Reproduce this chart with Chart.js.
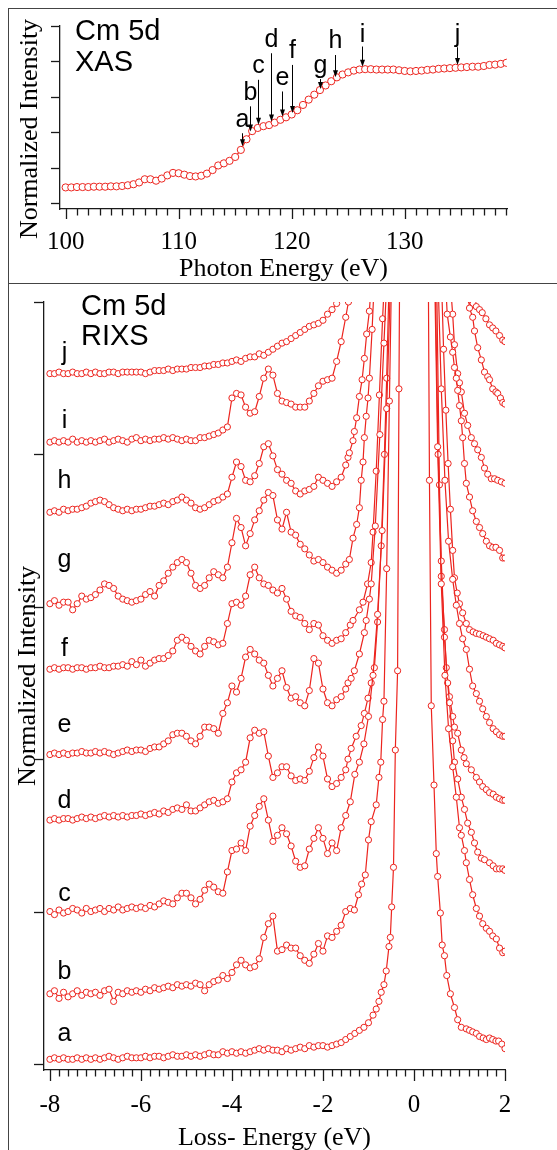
<!DOCTYPE html>
<html>
<head>
<meta charset="utf-8">
<script src="https://cdn.jsdelivr.net/npm/chart.js@4.4.0/dist/chart.umd.min.js"></script>
<style>
  body { margin: 0; background: #fff; }
  #wrap { position: relative; width: 557px; height: 1150px; overflow: hidden; background: #fff; }
  canvas { position: absolute; left: 0; }
  #xas { top: 0; }
  #rixs { top: 285px; }
  .frame { position: absolute; left: 8px; top: 8px; width: 700px; height: 1300px; border-left: 1.5px solid #444; border-top: 1.5px solid #444; }
  .sep { position: absolute; left: 8px; top: 283px; width: 700px; border-top: 1.5px solid #444; }
</style>
</head>
<body>
<div id="wrap">
  <canvas id="xas" width="557" height="285"></canvas>
  <canvas id="rixs" width="557" height="865"></canvas>
  <div class="frame"></div>
  <div class="sep"></div>
</div>
<script>
// ---- XAS (top panel) ----
const xasEnergy = [100,100.5,101,101.5,102,102.5,103,103.5,104,104.5,105,105.5,106,106.5,107,107.5,108,108.5,109,109.5,
  110,110.5,111,111.5,112,112.5,113,113.5,114,114.5,115,115.5,116,116.5,117,117.5,118,118.5,119,119.5,
  120,120.5,121,121.5,122,122.5,123,123.5,124,124.5,125,125.5,126,126.5,127,127.5,128,128.5,129,129.5,
  130,130.5,131,131.5,132,132.5,133,133.5,134,134.5,135,135.5,136,136.5,137,137.5,138,138.5,139];
const xasIntensity = [0.44,0.44,0.45,0.45,0.45,0.46,0.46,0.46,0.47,0.47,0.48,0.5,0.53,0.58,0.67,0.67,0.63,0.69,0.78,0.85,
  0.84,0.8,0.76,0.75,0.77,0.83,0.93,1.06,1.12,1.19,1.3,1.5,1.8,2.03,2.12,2.17,2.2,2.27,2.35,2.42,
  2.5,2.62,2.77,2.92,3.06,3.19,3.32,3.44,3.55,3.63,3.69,3.74,3.77,3.78,3.78,3.77,3.77,3.77,3.77,3.75,
  3.73,3.72,3.73,3.74,3.76,3.77,3.79,3.8,3.81,3.82,3.83,3.84,3.85,3.85,3.87,3.9,3.91,3.93,3.96];

// arrows marking the excitation energies
const arrowLetters = ['a','b','c','d','e','f','g','h','i','j'];
const arrowEnergy = [115.6,116.3,117.0,118.2,119.1,120.0,122.5,123.8,126.2,134.6];
const arrowLabelBase = [2.16,2.91,3.67,4.42,3.34,4.09,3.67,4.37,4.56,4.56];
const arrowFrom = [1.97,2.73,3.48,4.23,3.15,3.9,3.5,4.18,4.42,4.4];
const arrowTo = [1.6,2.02,2.21,2.3,2.44,2.54,3.22,3.55,3.85,3.9];

// ---- RIXS (bottom panel) ----
const lossGrid = [-8.0,-7.9,-7.8,-7.7,-7.6,-7.5,-7.4,-7.3,-7.2,-7.1,-7.0,-6.9,-6.8,-6.7,-6.6,-6.5,-6.4,-6.3,-6.2,-6.1,
  -6.0,-5.9,-5.8,-5.7,-5.6,-5.5,-5.4,-5.3,-5.2,-5.1,-5.0,-4.9,-4.8,-4.7,-4.6,-4.5,-4.4,-4.3,-4.2,-4.1,
  -4.0,-3.9,-3.8,-3.7,-3.6,-3.5,-3.4,-3.3,-3.2,-3.1,-3.0,-2.9,-2.8,-2.7,-2.6,-2.5,-2.4,-2.3,-2.2,-2.1,
  -2.0,-1.9,-1.8,-1.7,-1.6,-1.5];

const specA = [0.00,0.01,0.00,0.01,0.00,0.00,0.01,0.00,0.01,0.00, 0.01,0.00,0.01,0.02,0.01,0.00,0.01,0.02,0.01,0.01,
  0.01,0.02,0.01,0.02,0.02,0.01,0.02,0.03,0.02,0.02, 0.03,0.02,0.03,0.02,0.03,0.04,0.03,0.03,0.05,0.04,
  0.05,0.04,0.05,0.04,0.05,0.06,0.07,0.06,0.07,0.06, 0.06,0.05,0.07,0.06,0.07,0.08,0.07,0.09,0.08,0.09,
  0.09,0.08,0.09,0.10,0.11,0.13];
const specB = [0.01,0.03,-0.02,0.02,-0.01,0.01,0.03,0.0,0.02,0.01, 0.02,0.0,0.03,0.04,-0.04,0.02,0.01,0.03,0.02,0.03,
  0.02,0.04,0.03,0.05,0.04,0.05,0.06,0.05,0.07,0.06, 0.07,0.06,0.08,0.07,0.03,0.07,0.09,0.1,0.13,0.11,
  0.15,0.2,0.23,0.2,0.18,0.19,0.24,0.38,0.47,0.52, 0.29,0.3,0.33,0.31,0.31,0.26,0.23,0.21,0.27,0.34,
  0.29,0.39,0.38,0.42,0.46,0.55];
const specC = [0.0,-0.02,0.01,-0.01,0.0,0.02,0.01,-0.01,0.02,0.0, 0.01,0.02,0.0,0.02,0.01,0.03,0.01,0.02,0.03,0.02,
  0.03,0.02,0.04,0.03,0.05,0.07,0.06,0.05,0.09,0.12, 0.12,0.09,0.05,0.08,0.14,0.18,0.16,0.13,0.12,0.26,
  0.4,0.41,0.45,0.4,0.56,0.63,0.69,0.74,0.6,0.46, 0.5,0.55,0.51,0.43,0.33,0.29,0.3,0.41,0.48,0.55,
  0.48,0.38,0.45,0.4,0.55,0.63];
const specD = [0.0,0.01,0.0,0.01,0.01,0.0,0.01,0.02,0.01,0.02, 0.01,0.02,0.03,0.02,0.03,0.02,0.03,0.02,0.03,0.03,
  0.04,0.03,0.04,0.05,0.04,0.06,0.05,0.07,0.08,0.07, 0.1,0.06,0.06,0.08,0.1,0.12,0.13,0.11,0.12,0.14,
  0.25,0.31,0.33,0.38,0.54,0.59,0.57,0.58,0.42,0.28, 0.31,0.35,0.35,0.29,0.26,0.27,0.26,0.32,0.41,0.48,
  0.42,0.27,0.22,0.24,0.28,0.33];
const specE = [0.0,0.01,0.0,0.01,0.0,0.01,0.01,0.02,0.01,0.01, 0.02,0.01,0.02,0.01,0.0,0.01,0.02,0.03,0.02,0.03,
  0.03,0.02,0.04,0.05,0.05,0.07,0.09,0.13,0.14,0.14, 0.12,0.09,0.07,0.12,0.18,0.18,0.17,0.14,0.27,0.34,
  0.45,0.41,0.5,0.64,0.69,0.66,0.62,0.6,0.52,0.45, 0.5,0.55,0.44,0.37,0.38,0.34,0.32,0.42,0.63,0.6,
  0.43,0.34,0.32,0.36,0.38,0.43];
const specF = [0.0,0.01,0.0,0.01,0.01,0.0,0.01,0.01,0.0,0.01, 0.01,0.02,0.01,0.01,0.02,0.02,0.03,0.02,0.05,0.03,
  0.06,0.02,0.04,0.06,0.07,0.07,0.09,0.12,0.19,0.21, 0.19,0.15,0.12,0.1,0.15,0.19,0.18,0.16,0.17,0.3,
  0.43,0.44,0.42,0.48,0.62,0.67,0.6,0.56,0.55,0.52, 0.5,0.53,0.46,0.38,0.35,0.34,0.3,0.26,0.3,0.29,
  0.22,0.19,0.17,0.19,0.2,0.24];
const specG = [0.0,0.02,-0.01,0.01,0.01,-0.04,0.0,0.05,0.03,0.04, 0.06,0.09,0.13,0.12,0.1,0.05,0.03,0.02,0.01,0.02,
  0.03,0.06,0.08,0.05,0.12,0.15,0.2,0.24,0.27,0.29, 0.27,0.2,0.12,0.1,0.12,0.17,0.21,0.19,0.17,0.24,
  0.4,0.56,0.5,0.38,0.46,0.55,0.61,0.68,0.73,0.71, 0.55,0.49,0.6,0.47,0.45,0.39,0.36,0.32,0.28,0.29,
  0.27,0.24,0.22,0.2,0.22,0.26];
const specH = [0.0,0.01,0.0,0.02,0.01,0.02,0.02,0.03,0.04,0.06, 0.07,0.08,0.07,0.05,0.03,0.02,0.01,0.02,0.01,0.02,
  0.02,0.03,0.04,0.04,0.05,0.06,0.05,0.07,0.08,0.1, 0.08,0.06,0.03,0.02,0.03,0.05,0.07,0.08,0.1,0.12,
  0.23,0.33,0.3,0.21,0.2,0.24,0.32,0.43,0.45,0.37, 0.28,0.25,0.21,0.19,0.14,0.12,0.14,0.15,0.17,0.23,
  0.21,0.19,0.17,0.2,0.23,0.31];
const specI = [0.0,0.01,0.0,0.01,0.0,0.02,0.0,0.01,0.0,0.01, 0.0,0.01,0.02,0.0,0.01,0.02,0.01,0.0,0.02,0.03,
  0.01,0.02,0.01,0.02,0.02,0.03,0.02,0.03,0.02,0.01, 0.02,0.01,0.01,0.03,0.03,0.04,0.05,0.06,0.08,0.1,
  0.29,0.32,0.31,0.23,0.19,0.2,0.3,0.42,0.48,0.44, 0.32,0.27,0.26,0.25,0.23,0.23,0.23,0.27,0.32,0.37,
  0.4,0.41,0.42,0.53,0.66,0.82];
const specJ = [0.0,0.0,0.01,0.0,0.0,0.01,0.0,0.0,0.01,0.0, 0.01,0.0,0.0,0.01,0.01,0.0,0.01,0.01,0.01,0.01,
  0.01,0.0,0.01,0.02,0.02,0.02,0.03,0.02,0.03,0.03, 0.03,0.04,0.04,0.04,0.05,0.05,0.06,0.06,0.07,0.07,
  0.08,0.09,0.08,0.1,0.11,0.11,0.13,0.12,0.14,0.16, 0.18,0.2,0.21,0.23,0.25,0.27,0.29,0.31,0.32,0.33,
  0.35,0.39,0.42,0.46,0.56,0.66];

// points around the elastic line, [loss energy, intensity]
const wingA = [[-1.4,0.15],[-1.3,0.17],[-1.2,0.19],[-1.1,0.21],[-1.0,0.24],[-0.9,0.29],[-0.83,0.33],[-0.77,0.38],[-0.72,0.44],
  [-0.66,0.49],[-0.61,0.58],[-0.55,0.74],[-0.52,0.8],[-0.49,1.0],[-0.45,1.26],[-0.41,2.03],[-0.36,2.55],[-0.33,4.4],[-0.3,6.0],
  [0.3,6.0],[0.34,3.8],[0.38,2.32],[0.44,1.8],[0.49,1.35],[0.52,1.2],[0.58,0.96],[0.62,0.75],[0.67,0.68],[0.72,0.55],[0.8,0.43],
  [0.89,0.34],[0.96,0.26],[1.04,0.21],[1.15,0.2],[1.22,0.19],[1.29,0.18],[1.37,0.17],[1.44,0.15],[1.52,0.14],[1.59,0.13],
  [1.66,0.14],[1.73,0.13],[1.8,0.12],[1.86,0.12],[1.93,0.1],[2.0,0.07]];
const wingB = [[-1.4,0.57],[-1.31,0.56],[-1.22,0.66],[-1.15,0.73],[-1.07,0.79],[-1.0,1.02],[-0.94,1.14],[-0.83,1.25],[-0.77,1.43],
  [-0.73,1.53],[-0.69,1.81],[-0.66,1.93],[-0.6,2.8],[-0.54,3.9],[-0.49,4.8],[0.45,4.8],[0.52,3.6],[0.6,2.7],[0.68,2.1],[0.76,1.75],
  [0.85,1.5],[0.93,1.3],[1.0,1.1],[1.04,1.05],[1.11,0.95],[1.15,0.87],[1.22,0.76],[1.29,0.66],[1.37,0.57],[1.44,0.52],[1.51,0.47],
  [1.59,0.44],[1.66,0.42],[1.73,0.39],[1.81,0.37],[1.88,0.31],[1.95,0.28],[2.0,0.29]];
const wingC = [[-1.4,0.72],[-1.3,0.9],[-1.2,0.98],[-1.1,1.1],[-1.0,1.28],[-0.9,1.55],[-0.8,1.95],[-0.7,2.5],[-0.6,3.3],[-0.52,4.1],
  [0.47,4.1],[0.53,3.0],[0.6,2.3],[0.67,1.8],[0.74,1.5],[0.78,1.37],[0.85,1.12],[0.89,0.98],[0.96,0.87],[1.04,0.75],[1.11,0.67],
  [1.18,0.58],[1.26,0.52],[1.33,0.45],[1.4,0.39],[1.48,0.35],[1.55,0.34],[1.66,0.32],[1.74,0.3],[1.81,0.28],[1.88,0.28],[1.95,0.28],[2.0,0.27]];
const wingD = [[-1.45,0.4],[-1.38,0.47],[-1.27,0.55],[-1.16,0.62],[-1.09,0.7],[-1.01,0.8],[-0.94,0.9],[-0.87,1.0],[-0.8,1.3],
  [-0.72,1.8],[-0.65,2.4],[-0.6,2.9],[-0.55,3.5],[0.5,3.5],[0.56,2.2],[0.6,1.6],[0.67,1.25],[0.71,1.0],[0.78,0.81],[0.85,0.68],
  [0.89,0.61],[0.96,0.57],[1.04,0.46],[1.1,0.41],[1.15,0.37],[1.26,0.33],[1.37,0.28],[1.44,0.25],[1.51,0.22],[1.59,0.2],
  [1.66,0.18],[1.74,0.17],[1.81,0.15],[1.88,0.14],[1.95,0.13],[2.0,0.13]];
const wingE = [[-1.45,0.47],[-1.38,0.5],[-1.31,0.55],[-1.2,0.66],[-1.09,0.8],[-1.05,0.88],[-0.98,1.02],[-0.94,1.12],[-0.85,1.5],
  [-0.75,2.1],[-0.66,2.7],[-0.6,3.1],[0.53,3.1],[0.6,2.4],[0.68,1.8],[0.76,1.4],[0.85,1.15],[0.93,0.98],[1.0,0.86],[1.07,0.76],
  [1.15,0.69],[1.22,0.56],[1.29,0.45],[1.37,0.4],[1.44,0.35],[1.51,0.3],[1.59,0.25],[1.66,0.21],[1.74,0.17],[1.81,0.15],
  [1.88,0.13],[1.95,0.12],[2.0,0.12]];
const wingF = [[-1.4,0.29],[-1.34,0.32],[-1.2,0.39],[-1.12,0.44],[-1.02,0.56],[-0.94,0.7],[-0.9,0.9],[-0.83,1.3],[-0.76,1.8],
  [-0.69,2.3],[-0.64,2.6],[0.6,2.6],[0.65,2.1],[0.7,1.7],[0.75,1.35],[0.8,1.05],[0.85,0.78],[0.89,0.6],[0.95,0.5],[1.0,0.43],
  [1.07,0.37],[1.15,0.3],[1.22,0.26],[1.3,0.245],[1.37,0.235],[1.44,0.23],[1.52,0.22],[1.59,0.21],[1.66,0.2],[1.74,0.19],
  [1.81,0.17],[1.88,0.16],[1.95,0.15],[2.0,0.14]];
const wingG = [[-1.42,0.29],[-1.34,0.43],[-1.26,0.52],[-1.2,0.63],[-1.16,0.81],[-1.12,0.93],[-1.09,1.09],[-1.05,1.23],[-1.01,1.35],
  [-0.98,1.48],[-0.92,1.8],[-0.86,2.2],[0.68,2.2],[0.73,1.9],[0.8,1.75],[0.85,1.65],[0.89,1.55],[0.93,1.48],[0.96,1.4],[1.0,1.3],
  [1.04,1.2],[1.07,1.09],[1.11,0.92],[1.15,0.79],[1.22,0.7],[1.29,0.61],[1.37,0.54],[1.44,0.5],[1.51,0.46],[1.59,0.41],
  [1.66,0.38],[1.73,0.37],[1.8,0.37],[1.88,0.35],[1.95,0.3],[2.0,0.3]];
const wingH = [[-1.45,0.36],[-1.42,0.39],[-1.34,0.47],[-1.31,0.53],[-1.26,0.62],[-1.2,0.76],[-1.14,0.87],[-1.09,1.01],[-1.04,1.17],
  [-0.98,1.32],[-0.94,1.5],[0.8,1.5],[0.85,1.3],[0.89,1.1],[0.96,0.91],[1.0,0.85],[1.04,0.79],[1.11,0.65],[1.18,0.57],[1.26,0.49],
  [1.33,0.45],[1.4,0.41],[1.48,0.36],[1.55,0.29],[1.62,0.25],[1.7,0.22],[1.77,0.22],[1.84,0.21],[1.92,0.2],[2.0,0.19]];
const wingI = [[-1.44,0.92],[-1.38,1.05],[1.18,1.0],[1.22,0.88],[1.29,0.82],[1.33,0.73],[1.4,0.62],[1.48,0.54],[1.55,0.46],
  [1.62,0.43],[1.66,0.41],[1.73,0.35],[1.8,0.33],[1.84,0.32],[1.9,0.29],[1.95,0.26],[2.0,0.25]];
const wingJ = [[1.2,0.55],[1.25,0.48],[1.3,0.46],[1.37,0.44],[1.44,0.42],[1.5,0.4],[1.58,0.36],[1.66,0.32],[1.73,0.3],
  [1.8,0.28],[1.88,0.25],[1.95,0.22],[2.0,0.21]];

const rixsNames = ['a','b','c','d','e','f','g','h','i','j'];
const rixsOffsets = [0.03,0.45,1.0,1.6,2.03,2.59,3.02,3.62,4.08,4.53];
const rixsLabelBase = [0.15,0.56,1.07,1.68,2.18,2.68,3.26,3.78,4.17,4.62];
const rixsLabelE = -7.68;

const spectra = [specA, specB, specC, specD, specE, specF, specG, specH, specI, specJ];
const wings = [wingA, wingB, wingC, wingD, wingE, wingF, wingG, wingH, wingI, wingJ];

const RED = 'rgb(236,36,30)';
Chart.defaults.color = '#000';

// tick marks, y title and the panel heading
const panelDecor = {
  id: 'panelDecor',
  afterDraw(chart, args, o) {
    const {ctx, scales: {x, y}} = chart;
    ctx.save();
    ctx.strokeStyle = '#1a1a1a';
    ctx.lineWidth = 1.3;
    for (let k = 0; k < o.xCount; k++) {
      const v = o.xStart + k * o.xStep;
      const px = Math.round(x.getPixelForValue(v)) + 0.5;
      const len = (k % o.xMajorEvery === 0) ? o.majorLen : o.minorLen;
      ctx.beginPath(); ctx.moveTo(px, x.top); ctx.lineTo(px, x.top + len); ctx.stroke();
    }
    for (let v = 0; v <= 5; v++) {
      const py = Math.round(y.getPixelForValue(v)) + 0.5;
      ctx.beginPath(); ctx.moveTo(y.right, py); ctx.lineTo(y.right - o.yLen, py); ctx.stroke();
    }
    ctx.fillStyle = '#000';
    ctx.font = '26px "Liberation Serif"';
    ctx.textAlign = 'center';
    ctx.textBaseline = 'middle';
    ctx.translate(o.yTitleX, o.yTitleY);
    ctx.rotate(-Math.PI / 2);
    ctx.fillText('Normalized Intensity', 0, 0);
    ctx.restore();

    ctx.save();
    ctx.fillStyle = '#000';
    ctx.font = '29px "Liberation Sans"';
    ctx.textBaseline = 'alphabetic';
    o.heading.forEach((t, i) => ctx.fillText(t, o.headX, o.headY[i]));
    ctx.restore();
  }
};

const xasArrows = {
  id: 'xasArrows',
  afterDatasetsDraw(chart) {
    const {ctx, scales: {x, y}} = chart;
    ctx.save();
    ctx.strokeStyle = '#000';
    ctx.fillStyle = '#000';
    ctx.lineWidth = 1;
    ctx.font = '25px "Liberation Sans"';
    ctx.textAlign = 'center';
    ctx.textBaseline = 'alphabetic';
    arrowLetters.forEach((t, i) => {
      const px = Math.round(x.getPixelForValue(arrowEnergy[i])) + 0.5;
      const y0 = y.getPixelForValue(arrowFrom[i]);
      const y1 = y.getPixelForValue(arrowTo[i]);
      ctx.beginPath(); ctx.moveTo(px, y0); ctx.lineTo(px, y1 - 5); ctx.stroke();
      ctx.beginPath(); ctx.moveTo(px, y1); ctx.lineTo(px - 2.5, y1 - 7); ctx.lineTo(px + 2.5, y1 - 7); ctx.closePath(); ctx.fill();
      ctx.fillText(t, px, y.getPixelForValue(arrowLabelBase[i]));
    });
    ctx.restore();
  }
};

const rixsLabels = {
  id: 'rixsLabels',
  afterDatasetsDraw(chart) {
    const {ctx, scales: {x, y}} = chart;
    ctx.save();
    ctx.fillStyle = '#000';
    ctx.font = '25px "Liberation Sans"';
    ctx.textAlign = 'center';
    ctx.textBaseline = 'alphabetic';
    rixsNames.forEach((t, i) => ctx.fillText(t, x.getPixelForValue(rixsLabelE), y.getPixelForValue(rixsLabelBase[i])));
    ctx.restore();
  }
};

const tickFont = {family: 'Liberation Serif', size: 25};
const titleFont = {family: 'Liberation Serif', size: 26};

new Chart(document.getElementById('xas'), {
  type: 'line',
  data: {
    datasets: [{
      data: xasEnergy.map((e, i) => ({x: e, y: xasIntensity[i]})),
      borderColor: RED, borderWidth: 1.2,
      pointRadius: 3.6, pointBorderWidth: 1, pointBorderColor: RED, pointBackgroundColor: '#fff',
      tension: 0
    }]
  },
  options: {
    responsive: false, animation: false,
    layout: {padding: {left: 0, right: 50, top: 26, bottom: 0}},
    plugins: {
      legend: {display: false}, tooltip: {enabled: false},
      panelDecor: {xStart: 100, xStep: 1, xCount: 40, xMajorEvery: 10, majorLen: 10, minorLen: 6.5, yLen: 9,
        yTitleX: 30, yTitleY: 129, heading: ['Cm 5d', 'XAS'], headX: 75, headY: [40, 71]}
    },
    scales: {
      x: {
        type: 'linear', min: 99.5, max: 139.05,
        grid: {display: false, drawTicks: false},
        border: {color: '#1a1a1a', width: 1.3},
        ticks: {stepSize: 10, includeBounds: false, padding: 18, font: tickFont, callback: v => (v % 10 === 0 ? String(v) : '')},
        title: {display: true, text: 'Photon Energy (eV)', font: {...titleFont, lineHeight: 1.2}, padding: {top: 0, bottom: 0}},
        afterFit: s => { s.height = 76; }
      },
      y: {
        min: -0.17, max: 5,
        grid: {display: false, drawTicks: false},
        border: {color: '#1a1a1a', width: 1.3},
        ticks: {display: false},
        afterFit: s => { s.width = 60; }
      }
    }
  },
  plugins: [panelDecor, xasArrows]
});

const rixsSets = spectra.map((s, i) => {
  const pts = lossGrid.map((e, k) => ({x: e, y: s[k] + rixsOffsets[i]}));
  wings[i].forEach(p => pts.push({x: p[0], y: p[1] + rixsOffsets[i]}));
  return {
    data: pts,
    borderColor: RED, borderWidth: 1.2,
    pointRadius: 3.1, pointBorderWidth: 1, pointBorderColor: RED, pointBackgroundColor: '#fff',
    tension: 0
  };
});

new Chart(document.getElementById('rixs'), {
  type: 'line',
  data: {datasets: rixsSets},
  options: {
    responsive: false, animation: false,
    layout: {padding: {left: 0, right: 52, top: 17, bottom: 0}},
    plugins: {
      legend: {display: false}, tooltip: {enabled: false},
      panelDecor: {xStart: -8, xStep: 0.2, xCount: 51, xMajorEvery: 10, majorLen: 11, minorLen: 6.5, yLen: 10,
        yTitleX: 28, yTitleY: 391, heading: ['Cm 5d', 'RIXS'], headX: 81, headY: [30, 60]}
    },
    scales: {
      x: {
        type: 'linear', min: -8.13, max: 2.0,
        grid: {display: false, drawTicks: false},
        border: {color: '#1a1a1a', width: 1.3},
        ticks: {stepSize: 2, includeBounds: false, padding: 20, font: tickFont, callback: v => (Math.abs(v % 2) < 1e-9 ? String(v) : '')},
        title: {display: true, text: 'Loss- Energy (eV)', font: {...titleFont, lineHeight: 0.92}, padding: {top: 0, bottom: 0}},
        afterFit: s => { s.height = 80; }
      },
      y: {
        min: -0.04, max: 5,
        grid: {display: false, drawTicks: false},
        border: {color: '#1a1a1a', width: 1.3},
        ticks: {display: false},
        afterFit: s => { s.width = 44; }
      }
    }
  },
  plugins: [panelDecor, rixsLabels]
});
</script>
</body>
</html>
